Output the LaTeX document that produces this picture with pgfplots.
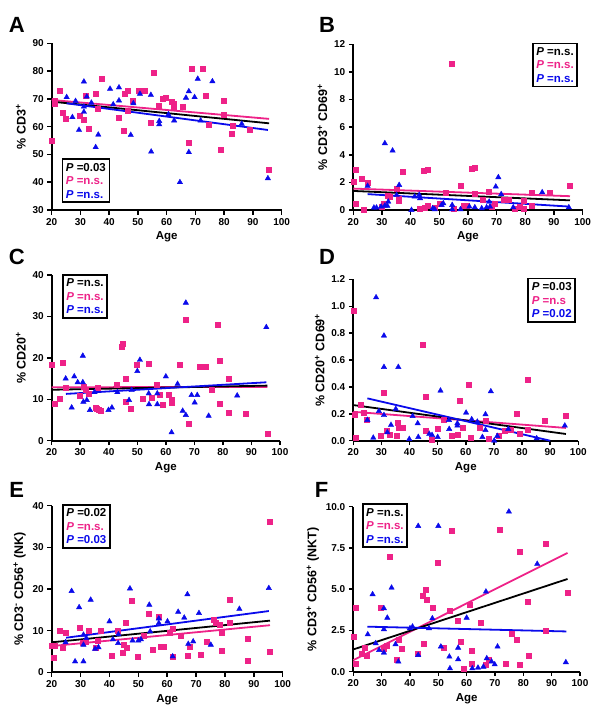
\documentclass[border=0pt]{standalone}
\usepackage{fontspec}
\setmainfont{Liberation Sans}
\usepackage{pgfplots}
\pgfplotsset{compat=1.18}
\definecolor{mypink}{RGB}{238,34,136}
\definecolor{myblue}{RGB}{10,10,235}
\newcommand\ticksize{\fontsize{10}{10}\selectfont\bfseries}
\newcommand\labsize{\fontsize{11.5}{12}\selectfont\bfseries}
\newcommand\ylabsize{\fontsize{12.5}{13}\selectfont\bfseries}
\newcommand\legsize{\fontsize{11.5}{13.5}\selectfont\bfseries}
\newcommand\leg[3]{\textit{P} =#1\\\textcolor{mypink}{\textit{P} =#2}\\\textcolor{myblue}{\textit{P} =#3}}
\pgfplotsset{
 panel/.style={
  scale only axis,
  axis lines*=left,
  xmin=20, xmax=100, xtick={20,30,...,100},
  tick align=outside,
  major tick length=4.5pt,
  axis line style={line width=1.8pt},
  every tick/.style={black, line width=1.5pt},
  tick label style={font=\ticksize},
  xlabel style={font=\labsize},
  ylabel style={font=\ylabsize},
  xlabel={Age},
  clip=false,
  /pgf/number format/assume math mode=true,
 },
 pinkpts/.style={only marks, mark=square*, mark size=2.5pt, color=mypink},
 bluepts/.style={only marks, mark=triangle*, mark size=3.1pt, color=myblue},
 regline/.style={line width=1.8pt, no marks},
}
\tikzset{
 legbox/.style={draw, line width=1.6pt, align=left, font=\legsize, inner xsep=3.5pt, inner ysep=4pt, fill=white},
 letter/.style={font=\fontsize{22}{22}\selectfont\bfseries},
}
\begin{document}
\begin{tikzpicture}
\useasboundingbox (0pt,0pt) rectangle (600pt,-717pt);
\node[letter] at (16.7pt,-25pt) {A};
\node[letter] at (327pt,-25pt) {B};
\node[letter] at (16.7pt,-256.7pt) {C};
\node[letter] at (327pt,-256.7pt) {D};
\node[letter] at (16.7pt,-490pt) {E};
\node[letter] at (321.7pt,-490pt) {F};
% ---------------- A
\begin{axis}[panel, at={(51.7pt,-210pt)}, anchor=south west, width=230pt, height=166.7pt,
  ymin=30, ymax=90, ytick={30,40,...,90}, ylabel={\% CD3\textsuperscript{+}}]
\addplot[pinkpts] coordinates {(20,55) (21,69.5) (21,68.3) (22.9,73) (23.8,65.2) (24.9,63) (29.9,63.8) (31,62.6) (32,71.2) (33,59.2) (35.4,71.8) (36,66.4) (37.4,77.2) (43.2,63.1) (45,58.4) (45.3,71.8) (46.4,72.9) (46.3,65.6) (48.3,69.2) (50.1,72.9) (52.5,73) (54.3,61.6) (55.5,79.3) (57.3,67.6) (58.5,70.2) (59.5,70.4) (61.6,69.1) (62.3,68.4) (62.6,67) (65.6,67.2) (67.7,54.1) (68.6,81) (72.6,80.9) (73.6,71.3) (74.7,60.8) (78.7,51.6) (79.8,69.4) (79.8,64.2) (82.8,60.2) (82.7,57.4) (88.9,59) (95.6,44.5)};
\addplot[bluepts] coordinates {(25.2,70.6) (27.2,63.4) (28.3,69.2) (29.5,58.8) (31.2,76.2) (31.2,67.2) (31.2,65.3) (32.2,70.8) (33.8,68.6) (35.3,52.6) (36.2,57.1) (40.3,73.6) (41.4,68) (43.4,74.1) (43.4,69.4) (47.5,57) (48.4,68.4) (50.7,71.8) (54.5,71.4) (54.6,51) (57.4,62) (57.4,60.8) (60.6,64.4) (62.6,62.2) (64.6,40) (66.7,70.4) (67.7,72.7) (67.7,50.8) (69.7,70.6) (70.8,77.2) (71.8,62.2) (75.9,76.3) (86.1,61) (95.2,41.4)};
\addplot[regline, mypink] coordinates {(20,69.6) (95.6,62.8)};
\addplot[regline, black] coordinates {(20,69) (95.6,61.2)};
\addplot[regline, myblue] coordinates {(25.2,68.4) (95.2,58.8)};
\node[legbox, anchor=south west] at (rel axis cs:0.043,0.042) {\leg{0.03}{n.s.}{n.s.}};
\end{axis}
% ---------------- B
\begin{axis}[panel, at={(353.3pt,-210pt)}, anchor=south west, width=229.3pt, height=165.7pt,
  ymin=0, ymax=12, ytick={0,2,...,12}, ylabel={\% CD3\textsuperscript{+} CD69\textsuperscript{+}}]
\addplot[pinkpts] coordinates {(20,2.05) (20.8,2.9) (20.8,0.43) (22.9,2.27) (23.8,0.05) (24.9,1.98) (29.9,0.24) (30.7,0.43) (31.9,1.04) (32.8,0.97) (35.3,1.57) (35.9,0.68) (35.9,0.85) (37.2,2.75) (43,0.07) (44.7,2.85) (46,2.9) (46,0.29) (45,0.2) (48.5,0.19) (50.1,0.43) (52.2,1.25) (54.3,10.56) (55.1,0.07) (57.3,1.79) (58.4,0.31) (59.5,0.31) (61.2,3.02) (62.3,3.07) (62.3,1.16) (65.3,0.72) (67.3,1.3) (68.3,0.24) (69.4,0.48) (72.4,0.72) (74.3,0.77) (76.4,0.12) (78.1,0.24) (79.5,0.68) (79.3,0.12) (82.4,1.26) (82.4,0.31) (88.6,1.26) (95.6,1.74)};
\addplot[bluepts] coordinates {(25,1.74) (27.2,0.17) (28.1,0.17) (29.7,0.24) (31,4.83) (31,0.31) (31.9,0.29) (32.2,0.6) (33.7,4.3) (35.1,1.09) (36,1.81) (40.3,0) (41.4,0.97) (43,1.09) (43.3,0.85) (47.7,0.12) (48.4,0.05) (50.8,0.36) (51.4,0.48) (54.5,0.36) (54.5,0.05) (57.4,0.05) (60.5,0.24) (62.4,0.19) (64.8,0.12) (66.5,0.19) (67.4,0.6) (67.7,0.24) (69.7,1.69) (70.6,2.37) (71.6,1.14) (75.8,0.19) (85.9,1.28) (95.2,0.19)};
\addplot[regline, mypink] coordinates {(20,1.55) (95.6,1.0)};
\addplot[regline, black] coordinates {(20,1.38) (95.6,0.7)};
\addplot[regline, myblue] coordinates {(25,1.15) (95.2,0.25)};
\node[legbox, anchor=north east] at (rel axis cs:0.98,1.01) {\leg{n.s.}{n.s.}{n.s.}};
\end{axis}
% ---------------- C
\begin{axis}[panel, at={(51.7pt,-440.7pt)}, anchor=south west, width=228.3pt, height=165.7pt,
  ymin=0, ymax=40, ytick={0,10,...,40}, ylabel={\% CD20\textsuperscript{+}}]
\addplot[pinkpts] coordinates {(20,18.3) (20.9,9) (22.9,10.2) (23.9,18.8) (24.9,12.9) (29.9,10.9) (31.1,13) (32,12.2) (32.8,11.4) (35.4,8) (35.8,7.8) (36,12.9) (36.4,7.4) (37.3,7.2) (42.8,13.6) (44.6,22.6) (44.9,23.3) (45.9,15) (45.9,9.3) (47.8,7.8) (49.9,18.3) (51.8,10.2) (53.9,18.5) (55,10.5) (56.9,13.4) (58,11) (58.9,8.6) (60.9,11.2) (62,9.8) (62,9.2) (65,18.4) (66.9,29.2) (67.9,4.2) (71.7,17.9) (73.9,17.9) (76,12.2) (78,28.1) (79,19.4) (79,8.9) (82,15) (81.9,6.8) (88,6.6) (95.6,1.7)};
\addplot[bluepts] coordinates {(24.9,15) (27,8) (27.9,15.5) (29.1,14.1) (30.9,14.1) (30.9,20.5) (31.1,9.4) (32.3,9.8) (33.4,7.4) (35,11.7) (39.9,7.4) (41.1,8) (43,11.7) (47.1,9.8) (48,12.2) (50,16.8) (50.9,19.5) (54,11.4) (54.1,8.8) (57,11.4) (57,8.8) (60,15.5) (62,2) (64.1,13.7) (65.9,7.2) (67,33.3) (67,6.2) (69,11) (70.1,9.2) (71,11) (75,6) (85,10.9) (95.2,27.4)};
\addplot[regline, mypink] coordinates {(20,12.9) (95.6,13.0)};
\addplot[regline, black] coordinates {(20,12.3) (95.6,13.3)};
\addplot[regline, myblue] coordinates {(25,11.3) (95.2,14.1)};
\node[legbox, anchor=north west] at (rel axis cs:0.045,1.005) {\leg{n.s.}{n.s.}{n.s.}};
\end{axis}
% ---------------- D
\begin{axis}[panel, at={(353.3pt,-440.7pt)}, anchor=south west, width=225pt, height=161.3pt,
  ymin=0, ymax=1.2, ytick={0,0.2,...,1.2},
  yticklabel style={/pgf/number format/.cd, fixed, fixed zerofill, precision=1},
  ylabel={\% CD20\textsuperscript{+} CD69\textsuperscript{+}}]
\addplot[pinkpts] coordinates {(20,0.965) (20.6,0.19) (20.8,0.025) (22.7,0.265) (23.8,0.21) (24.7,0.155) (29.7,0.037) (30.9,0.357) (31.9,0.074) (32.8,0.047) (35.4,0.037) (35.8,0.134) (36,0.097) (37.4,0.097) (44.8,0.714) (45.8,0.325) (45.8,0.074) (48,0.01) (49.9,0.087) (52,0.159) (55,0.037) (57,0.047) (57.9,0.295) (58.8,0.097) (61,0.414) (61.9,0.022) (64.9,0.099) (67,0.146) (68,0.017) (71.8,0.037) (74,0.074) (76,0.084) (78,0.203) (79,0.055) (81.9,0.456) (82,0.084) (87.9,0.146) (95.6,0.186)};
\addplot[bluepts] coordinates {(25,0.154) (27.1,0.022) (28.1,1.066) (29.1,0.22) (30.9,0.781) (30.9,0.548) (30.9,0.19) (32.1,0.062) (33.4,0.117) (35.1,0.236) (36,0.548) (39.9,0.012) (41.1,0.183) (42.9,0.129) (43.1,0.027) (47,0.05) (48,0.042) (50,0.027) (51,0.372) (54,0.154) (54.1,0.087) (57,0.129) (57,0.112) (60.1,0.208) (62.1,0.159) (64.1,0.141) (65.9,0.027) (67,0.196) (67,0.079) (68.9,0.367) (70.1,0) (71.2,0.035) (75.1,0.087) (85.2,0.017) (95.2,0.112)};
\addplot[regline, mypink] coordinates {(20,0.215) (95.6,0.095)};
\addplot[regline, black] coordinates {(20,0.265) (95.6,0.05)};
\addplot[regline, myblue] coordinates {(25,0.315) (90,0)};
\node[legbox, anchor=north east] at (rel axis cs:0.99,1.01) {\leg{0.03}{n.s}{0.02}};
\end{axis}
% ---------------- E
\begin{axis}[panel, at={(51.7pt,-672.3pt)}, anchor=south west, width=231pt, height=166.7pt,
  ymin=0, ymax=40, ytick={0,10,...,40},
  ylabel={\% CD3\textsuperscript{-} CD56\textsuperscript{+} (NK)}]
\addplot[pinkpts] coordinates {(20,6.4) (20.8,3.4) (21.2,6.4) (22.9,10.1) (23.8,5.8) (24.8,9.6) (29.8,10.6) (30.9,7.2) (31.9,7.4) (32.7,10.1) (35.4,5.9) (35.9,7.6) (37,10) (40.9,4) (43,10) (44.7,4.6) (44.8,6.7) (45.6,11.9) (45.9,6) (47.8,17.2) (49.9,3.7) (51.7,8.7) (53.7,14.1) (54.9,5.5) (57.2,13.4) (57.8,6.2) (58.9,6.2) (60.8,9.6) (61.8,10.5) (61.8,3.8) (64.8,8.9) (67,4) (67.9,6.1) (71.7,4.3) (73.7,7.4) (76,12.7) (76.9,11.8) (78.1,11.4) (78.9,9.5) (78.9,5.1) (81.8,11.9) (81.8,17.5) (87.8,8) (87.8,2.8) (95.6,36.2) (95.6,5)};
\addplot[bluepts] coordinates {(24.8,7.2) (26.9,19.5) (28.1,2.6) (29.5,15.6) (31,6.6) (31,9) (31,2.6) (32,8.2) (33.5,17.4) (35,5.6) (36.2,6) (40,12.2) (41.2,7.9) (43,7) (43.1,9.1) (47.1,20.1) (48,7.6) (50,7.6) (50.9,7.9) (53.8,16.2) (54.1,9.8) (57.1,12.9) (57.1,11.8) (60.1,12.2) (61.9,3.8) (63.8,14.5) (65.9,13.1) (67,18.7) (67.3,6.8) (69,7.4) (71,14.2) (75.1,6.6) (85,15.2) (95.2,20.2)};
\addplot[regline, mypink] coordinates {(20,6.3) (95.6,11.3)};
\addplot[regline, black] coordinates {(20,7.2) (95.6,12.4)};
\addplot[regline, myblue] coordinates {(25,8.3) (95.2,14.7)};
\node[legbox, anchor=north west] at (rel axis cs:0.045,1.01) {\leg{0.02}{n.s.}{0.03}};
\end{axis}
% ---------------- F
\begin{axis}[panel, at={(353.3pt,-671.7pt)}, anchor=south west, width=226.7pt, height=165pt,
  ymin=0, ymax=10, ytick={0,2.5,...,10},
  yticklabel style={/pgf/number format/.cd, fixed, fixed zerofill, precision=1},
  ylabel={\% CD3\textsuperscript{+} CD56\textsuperscript{+} (NKT)}]
\addplot[pinkpts] coordinates {(20,2.12) (20.8,3.9) (20.8,0.5) (22.9,1.07) (23.9,1.45) (24.8,0.97) (29.8,3.9) (30.8,1.41) (31.8,1.58) (32.8,6.97) (35.3,0.75) (35.9,1.92) (37.1,1.41) (42.9,1.11) (44.6,4.59) (45.5,4.99) (45.9,4.38) (44.8,1.72) (47.9,3.9) (49.9,6.63) (52,1.45) (53.9,3.72) (54.8,8.53) (57,3.09) (57.9,1.82) (58.8,0.16) (60.9,4.08) (61.9,1.25) (61.9,0.5) (64.8,2.99) (66.8,0.4) (67.9,0.71) (71.8,8.59) (73.8,0.46) (75.8,2.3) (77.8,1.94) (78.8,7.27) (78.8,0.4) (81.6,4.24) (81.8,0.97) (87.8,2.48) (87.8,7.78) (95.6,4.79)};
\addplot[bluepts] coordinates {(25.1,2.26) (26.8,4.69) (27.9,1.72) (29.1,1.31) (30.8,3.84) (30.8,2.57) (30.8,1.15) (32,3.27) (33.5,5.09) (34.9,1.66) (35.9,0.61) (40,2.63) (40.9,2.73) (42.9,8.83) (42.9,1.01) (46.7,2.63) (47.9,3.23) (50,8.83) (50.9,1.52) (53.9,0.91) (54.1,0.2) (57,1.45) (57,0.75) (60,3.27) (62,0.2) (64,0.24) (65.9,0.3) (66.8,4.85) (67.1,0.81) (68.8,0.61) (69.9,0.44) (70.9,1.52) (74.9,9.7) (84.9,6.53) (95,0.57)};
\addplot[regline, mypink] coordinates {(20,0.7) (95.6,7.2)};
\addplot[regline, black] coordinates {(20,1.35) (95.6,5.62)};
\addplot[regline, myblue] coordinates {(25,2.73) (95.2,2.44)};
\node[legbox, anchor=north west] at (rel axis cs:0.038,1.02) {\leg{n.s.}{n.s.}{n.s.}};
\end{axis}
\end{tikzpicture}
\end{document}
